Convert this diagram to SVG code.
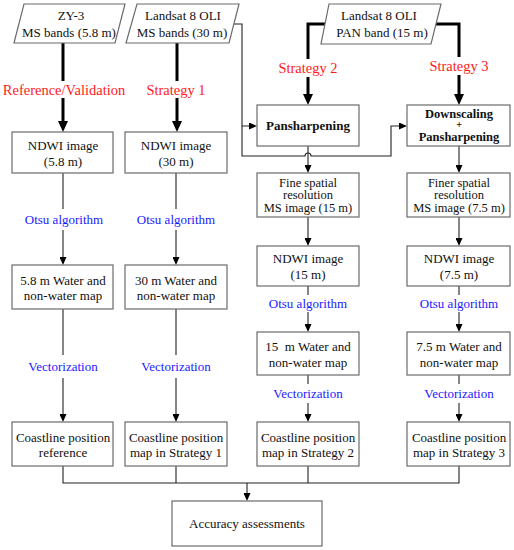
<svg xmlns="http://www.w3.org/2000/svg" width="514" height="550" viewBox="0 0 514 550">
<style>
.box{fill:#fff;stroke:#6b6b6b;stroke-width:1.2}
.t{font-family:"Liberation Serif",Tinos,"Times New Roman",Times,"DejaVu Serif",serif;font-size:13px;fill:#111;text-anchor:middle}
.s{font-size:12.5px}
.b{font-weight:bold}
.red{font-family:"Liberation Serif",Tinos,"Times New Roman",Times,"DejaVu Serif",serif;font-size:14.5px;fill:#ff1a1a;text-anchor:middle}
.blue{font-family:"Liberation Serif",Tinos,"Times New Roman",Times,"DejaVu Serif",serif;font-size:13px;fill:#1a1aff;text-anchor:middle}
.thin{fill:none;stroke:#222;stroke-width:1.1}
.thick{fill:none;stroke:#000;stroke-width:3}
</style>
<defs>
<marker id="ah" markerUnits="userSpaceOnUse" markerWidth="8" markerHeight="7" refX="0" refY="3.5" orient="auto">
<path d="M0,0 L8,3.5 L0,7 z" fill="#000"/>
</marker>
<marker id="ahT" markerUnits="userSpaceOnUse" markerWidth="11" markerHeight="10" refX="0" refY="5" orient="auto">
<path d="M0,0 L11,5 L0,10 z" fill="#000"/>
</marker>
</defs>

<g id="connectors">
<path class="thick" d="M63,43 V81"/>
<path class="thick" d="M63,98 V121" marker-end="url(#ahT)"/>
<path class="thick" d="M177,43 V81"/>
<path class="thick" d="M177,98 V121" marker-end="url(#ahT)"/>
<path class="thick" d="M326,24 H308 V59"/>
<path class="thick" d="M308,77 V94" marker-end="url(#ahT)"/>
<path class="thick" d="M436,24 H459 V57"/>
<path class="thick" d="M459,75 V94" marker-end="url(#ahT)"/>
<path class="thin" d="M234,24 H242 V126 H249" marker-end="url(#ah)"/>
<path class="thin" d="M242,126 V156 H305 A3,3 0 0 1 311,156 H391 V126 H399" marker-end="url(#ah)"/>
<path class="thin" d="M63,173 V209"/>
<path class="thin" d="M63,230 V257" marker-end="url(#ah)"/>
<path class="thin" d="M63,309 V355"/>
<path class="thin" d="M63,378 V414" marker-end="url(#ah)"/>
<path class="thin" d="M176,173 V209"/>
<path class="thin" d="M176,230 V257" marker-end="url(#ah)"/>
<path class="thin" d="M176,309 V355"/>
<path class="thin" d="M176,378 V414" marker-end="url(#ah)"/>
<path class="thin" d="M308,146 V165" marker-end="url(#ah)"/>
<path class="thin" d="M308,217 V238" marker-end="url(#ah)"/>
<path class="thin" d="M308,286 V295"/>
<path class="thin" d="M308,312 V324" marker-end="url(#ah)"/>
<path class="thin" d="M308,375 V384"/>
<path class="thin" d="M308,403 V414" marker-end="url(#ah)"/>
<path class="thin" d="M459,146 V165" marker-end="url(#ah)"/>
<path class="thin" d="M459,217 V238" marker-end="url(#ah)"/>
<path class="thin" d="M459,286 V295"/>
<path class="thin" d="M459,312 V324" marker-end="url(#ah)"/>
<path class="thin" d="M459,375 V384"/>
<path class="thin" d="M459,403 V414" marker-end="url(#ah)"/>
<path class="thin" d="M63,466 V483 H459 V466"/>
<path class="thin" d="M176,466 V483"/>
<path class="thin" d="M308,466 V483"/>
<path class="thin" d="M247,483 V493" marker-end="url(#ah)"/>
<text class="red" x="64" y="95">Reference/Validation</text>
<text class="red" x="176" y="95">Strategy 1</text>
<text class="red" x="308" y="73">Strategy 2</text>
<text class="red" x="459" y="71">Strategy 3</text>
<text class="blue" x="64" y="223.5">Otsu algorithm</text>
<text class="blue" x="176" y="223.5">Otsu algorithm</text>
<text class="blue" x="308" y="307.5">Otsu algorithm</text>
<text class="blue" x="459" y="307.5">Otsu algorithm</text>
<text class="blue" x="63" y="370.5">Vectorization</text>
<text class="blue" x="176" y="370.5">Vectorization</text>
<text class="blue" x="308" y="397.5">Vectorization</text>
<text class="blue" x="459" y="397.5">Vectorization</text>
</g>

<g id="in-zy3">
<polygon class="box" points="24,4 125,4 115,43 14,43"/>
<text class="t" x="71" y="19.5">ZY-3</text>
<text class="t" x="69" y="36.5">MS bands (5.8 m)</text>
</g>
<g id="in-ms">
<polygon class="box" points="137,4 239,4 229,43 126,43"/>
<text class="t" x="183" y="19.5">Landsat 8 OLI</text>
<text class="t" x="182" y="36.5">MS bands (30 m)</text>
</g>
<g id="in-pan">
<polygon class="box" points="329,4 441,4 431,44 321,44"/>
<text class="t" x="379" y="19.5">Landsat 8 OLI</text>
<text class="t" x="382" y="36.5">PAN band (15 m)</text>
</g>

<g id="ndwi58">
<rect class="box" x="12" y="132" width="101" height="41"/>
<text class="t" x="63" y="149.5">NDWI image</text>
<text class="t" x="63" y="165.5">(5.8 m)</text>
</g>
<g id="ndwi30">
<rect class="box" x="125" y="132" width="102" height="41"/>
<text class="t" x="176" y="149.5">NDWI image</text>
<text class="t" x="176" y="165.5">(30 m)</text>
</g>
<g id="water58">
<rect class="box" x="12" y="265" width="101" height="44"/>
<text class="t" x="63" y="284.5">5.8 m Water and</text>
<text class="t" x="63" y="299.5">non-water map</text>
</g>
<g id="water30">
<rect class="box" x="125" y="265" width="102" height="44"/>
<text class="t" x="176" y="284.5">30 m Water and</text>
<text class="t" x="176" y="299.5">non-water map</text>
</g>
<g id="coastref">
<rect class="box" x="12" y="422" width="101" height="44"/>
<text class="t" x="63" y="441.5">Coastline position</text>
<text class="t" x="63" y="456.5">reference</text>
</g>
<g id="coast1">
<rect class="box" x="125" y="422" width="102" height="44"/>
<text class="t" x="176" y="441.5">Coastline position</text>
<text class="t" x="176" y="456.5">map in Strategy 1</text>
</g>

<g id="pansharp">
<rect class="box" x="257" y="105" width="102" height="41"/>
<text class="t b" x="308" y="130">Pansharpening</text>
</g>
<g id="downscale">
<rect class="box" x="407" y="105" width="103" height="41"/>
<text class="t b s" x="459" y="117.5">Downscaling</text>
<text class="t b" x="459" y="128" style="font-size:10px">+</text>
<text class="t b s" x="459" y="140.5">Pansharpening</text>
</g>
<g id="fine15">
<rect class="box" x="257" y="173" width="102" height="44"/>
<text class="t s" x="308" y="186.5">Fine spatial</text>
<text class="t s" x="308" y="199">resolution</text>
<text class="t s" x="308" y="211.5">MS image (15 m)</text>
</g>
<g id="finer75">
<rect class="box" x="407" y="173" width="103" height="44"/>
<text class="t s" x="459" y="186.5">Finer spatial</text>
<text class="t s" x="459" y="199">resolution</text>
<text class="t s" x="459" y="211.5">MS image (7.5 m)</text>
</g>
<g id="ndwi15">
<rect class="box" x="257" y="246" width="102" height="40"/>
<text class="t" x="308" y="262.5">NDWI image</text>
<text class="t" x="308" y="278.5">(15 m)</text>
</g>
<g id="ndwi75">
<rect class="box" x="407" y="246" width="103" height="40"/>
<text class="t" x="459" y="262.5">NDWI image</text>
<text class="t" x="459" y="278.5">(7.5 m)</text>
</g>
<g id="water15">
<rect class="box" x="257" y="332" width="102" height="43"/>
<text class="t" x="308" y="350.5" xml:space="preserve">15  m Water and</text>
<text class="t" x="308" y="366.5">non-water map</text>
</g>
<g id="water75">
<rect class="box" x="407" y="332" width="103" height="43"/>
<text class="t" x="459" y="350.5">7.5 m Water and</text>
<text class="t" x="459" y="366.5">non-water map</text>
</g>
<g id="coast2">
<rect class="box" x="257" y="422" width="102" height="44"/>
<text class="t" x="308" y="441.5">Coastline position</text>
<text class="t" x="308" y="456.5">map in Strategy 2</text>
</g>
<g id="coast3">
<rect class="box" x="407" y="422" width="103" height="44"/>
<text class="t" x="459" y="441.5">Coastline position</text>
<text class="t" x="459" y="456.5">map in Strategy 3</text>
</g>
<g id="accuracy">
<rect class="box" x="172" y="501" width="150" height="45"/>
<text class="t" x="247" y="528">Accuracy assessments</text>
</g>
</svg>
